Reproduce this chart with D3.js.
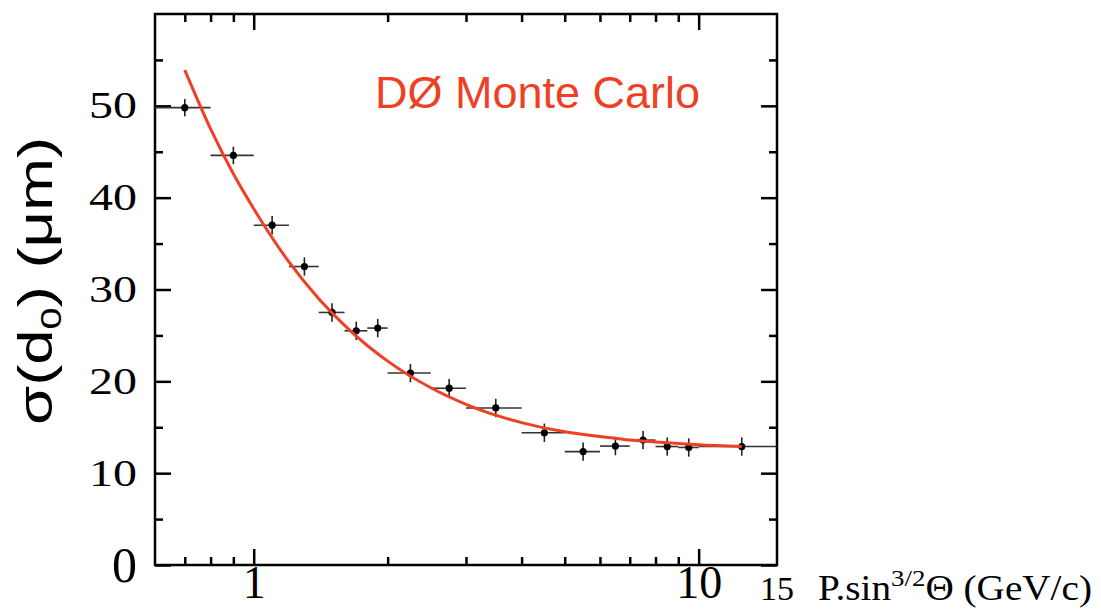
<!DOCTYPE html>
<html><head><meta charset="utf-8">
<script src="https://cdn.jsdelivr.net/npm/d3@7"></script>
<style>body{margin:0;background:#fff}svg{display:block}</style>
</head><body>
<svg id="c" width="1101" height="609"></svg>
<script>
// ---- data ----
const binLow  = [0.6, 0.8, 1.0, 1.2, 1.4, 1.6, 1.8, 2.0, 2.5, 3, 4, 5, 6, 7, 8, 9, 10];
const binHigh = [0.8, 1.0, 1.2, 1.4, 1.6, 1.8, 2.0, 2.5, 3, 4, 5, 6, 7, 8, 9, 10, 15];
const pCenter = [0.7, 0.9, 1.1, 1.3, 1.5, 1.7, 1.9, 2.25, 2.75, 3.5, 4.5, 5.5, 6.5, 7.5, 8.5, 9.5, 12.5];
const sigma   = [49.8, 44.6, 37.0, 32.5, 27.5, 25.5, 25.8, 20.9, 19.25, 17.1, 14.4, 12.35, 12.95, 13.6, 12.9, 12.8, 12.9];
const sigmaErr= [0.95, 0.95, 1.0, 1.0, 1.0, 1.0, 1.0, 1.0, 1.0, 1.0, 1.0, 1.0, 1.0, 1.0, 1.0, 1.0, 1.0];
// fitted curve
const fitP     = [0.7, 0.8, 0.9, 1.0, 1.2, 1.4, 1.6, 1.8, 2.0, 2.5, 3, 4, 5, 6, 7, 8, 10, 12.5];
const fitSigma = [53.9, 47.5, 42.6, 38.8, 33.0, 29.0, 26.1, 23.9, 22.2, 19.3, 17.5, 15.5, 14.5, 14.0, 13.6, 13.4, 13.1, 12.9];
const yMajor = [0, 10, 20, 30, 40, 50];
const yMinor = [5, 15, 25, 35, 45, 55];
const xMajor = [1, 10];
const xMinor = [0.7, 0.8, 0.9, 2, 3, 4, 5, 6, 7, 8, 9];
const xLabels = ["1", "10"];
const xEndLabel = "15";
const titleText = "DØ Monte Carlo";

// ---- layout ----
const L = 155, R = 777, T = 14, B = 565;
const red = "#ee4025";
const serif = "'Liberation Serif','Times New Roman',serif";
const sans = "'Liberation Sans',Arial,sans-serif";

const svg = d3.select("#c");
const x = d3.scaleLog().domain([0.6, 15]).range([L, R]);
const y = d3.scaleLinear().domain([0, 60]).range([B, T]);

function styleAxis(g) {
  g.select(".domain").remove();
  g.selectAll(".tick line").attr("stroke", "#000").attr("stroke-width", 2.5);
}

// left axis
const gl = svg.append("g").attr("transform", `translate(${L},0)`)
  .call(d3.axisLeft(y).tickValues(yMajor).tickSizeInner(-16).tickSizeOuter(0).tickPadding(18)
    .tickFormat(d => String(d)));
styleAxis(gl);
gl.selectAll(".tick text").attr("fill", "#000")
  .style("font-family", serif)
  .each(function(d) {
    const t = d3.select(this);
    if (d === 0) { t.style("font-size", "50px"); }
    else { t.style("font-size", "37px").attr("textLength", 48).attr("lengthAdjust", "spacingAndGlyphs"); }
  });
svg.append("g").attr("transform", `translate(${L},0)`)
  .call(d3.axisLeft(y).tickValues(yMinor).tickSizeInner(-8).tickSizeOuter(0).tickFormat(""))
  .call(styleAxis);

// right axis
svg.append("g").attr("transform", `translate(${R},0)`)
  .call(d3.axisRight(y).tickValues(yMajor).tickSizeInner(-16).tickSizeOuter(0).tickFormat(""))
  .call(styleAxis);
svg.append("g").attr("transform", `translate(${R},0)`)
  .call(d3.axisRight(y).tickValues(yMinor).tickSizeInner(-8).tickSizeOuter(0).tickFormat(""))
  .call(styleAxis);

// bottom axis
const gb = svg.append("g").attr("transform", `translate(0,${B})`)
  .call(d3.axisBottom(x).tickValues(xMajor).tickSizeInner(-16).tickSizeOuter(0)
    .tickFormat((d, i) => xLabels[i]));
styleAxis(gb);
gb.selectAll(".tick text").attr("fill", "#000").attr("dy", null).attr("y", 33)
  .style("font-family", serif).style("font-size", "46px");
svg.append("g").attr("transform", `translate(0,${B})`)
  .call(d3.axisBottom(x).tickValues(xMinor).tickSizeInner(-8).tickSizeOuter(0).tickFormat(""))
  .call(styleAxis);
svg.append("text").attr("x", x(15)).attr("y", 600).attr("text-anchor", "middle")
  .style("font-family", serif).style("font-size", "34px").text(xEndLabel);

// top axis
svg.append("g").attr("transform", `translate(0,${T})`)
  .call(d3.axisTop(x).tickValues(xMajor).tickSizeInner(-16).tickSizeOuter(0).tickFormat(""))
  .call(styleAxis);
svg.append("g").attr("transform", `translate(0,${T})`)
  .call(d3.axisTop(x).tickValues(xMinor).tickSizeInner(-8).tickSizeOuter(0).tickFormat(""))
  .call(styleAxis);

// frame
svg.append("rect").attr("x", L).attr("y", T).attr("width", R - L).attr("height", B - T)
  .attr("fill", "none").attr("stroke", "#000").attr("stroke-width", 2.5);

// data
const pts = pCenter.map((p, i) => ({p, lo: binLow[i], hi: binHigh[i], s: sigma[i], e: sigmaErr[i]}));
const gp = svg.append("g");
gp.selectAll("line.h").data(pts).join("line").attr("class", "h")
  .attr("x1", d => x(d.lo)).attr("x2", d => x(d.hi))
  .attr("y1", d => y(d.s)).attr("y2", d => y(d.s))
  .attr("stroke", "#333").attr("stroke-width", 1.6);
gp.selectAll("line.v").data(pts).join("line").attr("class", "v")
  .attr("x1", d => x(d.p)).attr("x2", d => x(d.p))
  .attr("y1", d => y(d.s - d.e)).attr("y2", d => y(d.s + d.e))
  .attr("stroke", "#222").attr("stroke-width", 1.6);

// fit curve
const fit = fitP.map((p, i) => [p, fitSigma[i]]);
svg.append("path").datum(fit)
  .attr("d", d3.line().x(d => x(d[0])).y(d => y(d[1])).curve(d3.curveMonotoneX))
  .attr("fill", "none").attr("stroke", red).attr("stroke-width", 3);

gp.selectAll("circle").data(pts).join("circle")
  .attr("cx", d => x(d.p)).attr("cy", d => y(d.s)).attr("r", 3.6).attr("fill", "#000");

// label
svg.append("text").attr("x", 375).attr("y", 108)
  .attr("textLength", 325).attr("lengthAdjust", "spacingAndGlyphs")
  .style("font-family", sans).style("font-size", "45px").attr("fill", red).text(titleText);

// y title
const yt = svg.append("text").attr("transform", "translate(52,281) rotate(-90)")
  .attr("text-anchor", "middle").attr("textLength", 288).attr("lengthAdjust", "spacingAndGlyphs")
  .style("font-family", sans).style("font-size", "48px").attr("fill", "#000");
yt.append("tspan").text("σ(d");
yt.append("tspan").attr("dy", 9).style("font-size", "30px").text("0");
yt.append("tspan").attr("dy", -9).text(") (μm)");

// x title
const xt = svg.append("text").attr("x", 818).attr("y", 600)
  .attr("textLength", 274).attr("lengthAdjust", "spacingAndGlyphs")
  .style("font-family", serif).style("font-size", "35px").attr("fill", "#000");
xt.append("tspan").text("P.sin");
xt.append("tspan").attr("dy", -14).style("font-size", "24px").text("3/2");
xt.append("tspan").attr("dy", 14).text("Θ (GeV/c)");
</script>
</body></html>
